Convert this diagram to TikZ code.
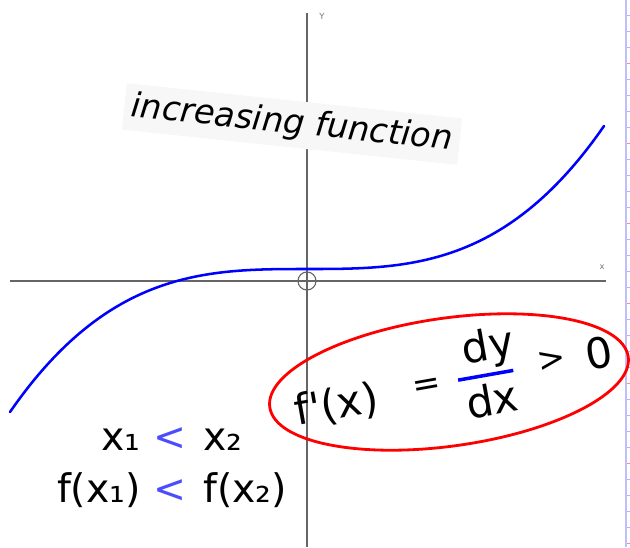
\documentclass[tikz,border=0pt]{standalone}
\usepackage{fontspec}
\setmainfont{DejaVu Sans}
\usepackage{tikz}
\usetikzlibrary{positioning}

\begin{document}
\begin{tikzpicture}[
    x=0.025cm, y=-0.025cm,
    axis/.style={draw=black!60, line width=0.8pt},
    axlabel/.style={font=\fontsize{6}{6}\selectfont, text=black!55, inner sep=0pt},
    curve/.style={draw=blue, line width=1.8pt, line cap=round},
    ring/.style={draw=red, line width=2pt},
    lbl/.style={inner sep=0pt, text=black},
    big/.style={lbl, font=\fontsize{30}{30}\selectfont},
    rel/.style={lbl, font=\fontsize{24}{24}\selectfont, text height=10pt, text depth=0pt},
    less/.style={text=blue!70}
  ]
  \useasboundingbox (0,0) rectangle (630,547);
  % ruler strip at the right edge
  \fill[blue!25] (625,0) rectangle (627,547);
  \foreach \ty in {15,31,...,547}
    \draw[blue!30, line width=0.7pt] (627,\ty) -- (630,\ty);
  \foreach \ty in {63,143,...,547}
    \draw[red!45, line width=0.7pt] (627,\ty) -- (630,\ty);

  % axes
  \coordinate (O)  at (307,281);
  \coordinate (xl) at (10,281);
  \coordinate (xr) at (606,281);
  \coordinate (yt) at (307,13);
  \coordinate (yb) at (307,547);
  \draw[axis] (xl) -- (xr);
  \draw[axis] (yb) -- (yt);
  \draw[axis] (O) circle[radius=9];
  \node[axlabel] (ylab) at (322,16)  {Y};
  \node[axlabel] (xlab) at (602,267) {x};

  % the increasing function, a cubic through (307,269)
  \draw[curve] plot[domain=10:604, samples=90, smooth]
    (\x, {269-143*((\x-307)/297)*((\x-307)/297)*((\x-307)/297)});

  \node[lbl, rotate=-6, fill=black!3, inner sep=5pt,
        font=\fontsize{24}{24}\selectfont\itshape] (title) at (292,124)
        {increasing function};

  % derivative, tilted
  \begin{scope}[shift={(425,388)}, rotate=10, transform shape]
    \node[big] (lhs) at (-90,2)  {f\textquotesingle(x)};
    \node[rel] (eq)  at (2,0)    {=};
    \coordinate (barl) at (34,-2);
    \coordinate (barr) at (90,-2);
    \node[big] (num) at (69,-28) {dy};
    \node[big] (den) at (64,23)  {dx};
    \node[rel] (gt)  at (130,-2) {>};
    \node[big] (zero) at (177,-4) {0};
    \draw[blue, line width=2.5pt] (barl) -- (barr);
  \end{scope}
  \draw[ring, rotate around={8:(449,382)}] (449,382) ellipse[x radius=181, y radius=64];

  % the inequalities
  \node[lbl, font=\fontsize{28}{37}\selectfont] (ineq) at (172,466) {%
    \begin{tabular}{@{}r@{\hspace{9pt}}c@{\hspace{12pt}}l@{}}
      x₁    & \textcolor{blue!70}{<} & x₂ \\
      f(x₁) & \textcolor{blue!70}{<} & f(x₂)
    \end{tabular}};
\end{tikzpicture}
\end{document}
